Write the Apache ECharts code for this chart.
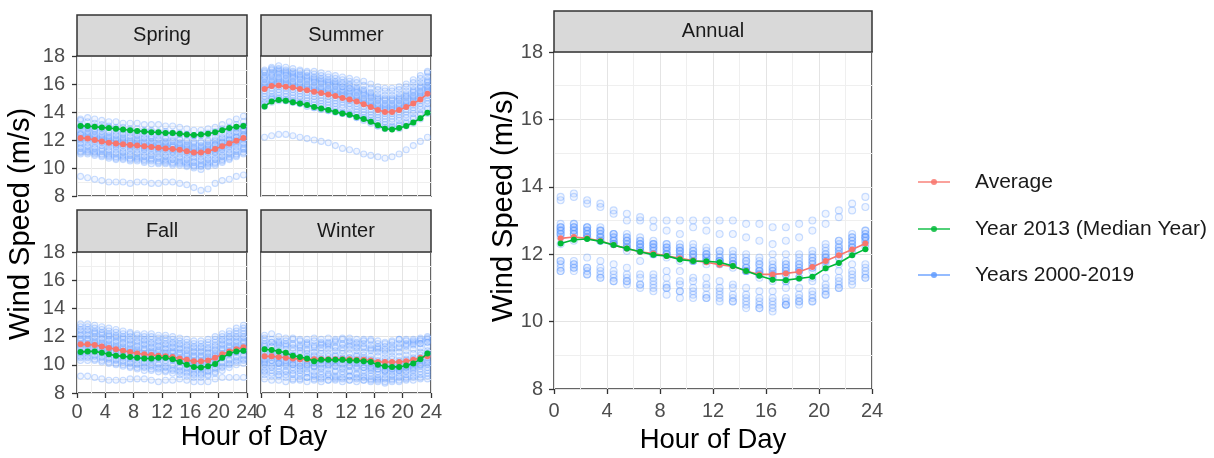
<!DOCTYPE html>
<html>
<head>
<meta charset="utf-8">
<title>Hourly wind speed by season</title>
<script src="https://cdn.jsdelivr.net/npm/echarts@6/dist/echarts.min.js"></script>
<style>
  html, body { margin: 0; padding: 0; background: #ffffff; }
  #chart { width: 1214px; height: 458px; }
</style>
</head>
<body>
<div id="chart"></div>
<script>
// Hour of day (bin centres)
const hours = [0.5,1.5,2.5,3.5,4.5,5.5,6.5,7.5,8.5,9.5,10.5,11.5,12.5,13.5,14.5,15.5,16.5,17.5,18.5,19.5,20.5,21.5,22.5,23.5];
const hourTicks = [0, 4, 8, 12, 16, 20, 24];
const speedTicks = [8, 10, 12, 14, 16, 18];

const seriesNames = ['Average', 'Year 2013 (Median Year)', 'Years 2000-2019'];

// ---- Spring ----
const springAverage = [12.15,12.1,12.0,11.9,11.8,11.75,11.7,11.65,11.6,11.55,11.5,11.45,11.4,11.35,11.3,11.2,11.1,11.1,11.2,11.35,11.55,11.75,11.95,12.15];
const springMedianYear = [13.0,13.0,12.95,12.9,12.85,12.8,12.75,12.7,12.65,12.6,12.55,12.55,12.5,12.5,12.45,12.4,12.35,12.4,12.45,12.55,12.7,12.85,12.95,13.0];
const springYears = [
  [13.5,13.6,13.5,13.4,13.3,13.3,13.2,13.2,13.2,13.1,13.1,13.1,13.0,13.0,12.9,12.8,12.7,12.7,12.8,12.9,13.1,13.3,13.5,13.7],
  [13.4,13.3,13.2,13.1,13.0,12.9,12.9,12.8,12.8,12.7,12.7,12.6,12.6,12.5,12.5,12.4,12.3,12.3,12.4,12.6,12.8,12.9,13.1,13.3],
  [13.0,13.0,13.0,12.9,12.9,12.8,12.7,12.7,12.6,12.6,12.6,12.5,12.5,12.5,12.4,12.4,12.3,12.4,12.5,12.5,12.7,12.8,12.9,13.0],
  [13.0,12.9,12.8,12.8,12.6,12.6,12.5,12.5,12.4,12.4,12.3,12.3,12.2,12.2,12.1,12.0,11.9,11.9,12.0,12.2,12.4,12.6,12.8,13.0],
  [12.9,12.8,12.7,12.6,12.5,12.4,12.4,12.3,12.3,12.2,12.2,12.1,12.1,12.0,12.0,11.9,11.8,11.8,11.9,12.0,12.2,12.4,12.6,12.8],
  [12.7,12.6,12.6,12.4,12.3,12.3,12.2,12.2,12.1,12.1,12.1,12.0,11.9,11.9,11.8,11.7,11.7,11.6,11.7,11.9,12.1,12.3,12.5,12.7],
  [12.5,12.5,12.4,12.3,12.2,12.1,12.1,12.0,12.0,11.9,11.9,11.8,11.8,11.7,11.7,11.6,11.5,11.5,11.6,11.7,11.9,12.1,12.3,12.6],
  [12.4,12.4,12.3,12.2,12.1,12.0,12.0,11.9,11.9,11.8,11.8,11.7,11.7,11.6,11.6,11.5,11.4,11.4,11.5,11.7,11.8,12.0,12.2,12.4],
  [12.4,12.3,12.2,12.1,12.0,11.9,11.9,11.8,11.8,11.7,11.7,11.6,11.6,11.5,11.5,11.4,11.3,11.3,11.4,11.6,11.8,12.0,12.2,12.3],
  [12.2,12.2,12.1,12.0,11.9,11.8,11.8,11.7,11.7,11.6,11.6,11.5,11.5,11.5,11.4,11.3,11.2,11.2,11.3,11.4,11.6,11.8,12.0,12.3],
  [12.1,12.1,12.0,11.9,11.8,11.7,11.7,11.6,11.6,11.5,11.5,11.4,11.4,11.3,11.3,11.2,11.1,11.1,11.2,11.3,11.5,11.7,11.9,12.1],
  [12.0,12.0,11.9,11.8,11.7,11.6,11.6,11.5,11.5,11.4,11.4,11.3,11.3,11.2,11.2,11.1,11.0,11.0,11.1,11.2,11.4,11.6,11.8,12.0],
  [11.8,11.8,11.7,11.6,11.5,11.5,11.4,11.4,11.3,11.3,11.2,11.2,11.1,11.1,11.0,10.9,10.8,10.8,10.9,11.1,11.3,11.5,11.7,11.8],
  [11.7,11.6,11.5,11.4,11.3,11.3,11.2,11.2,11.1,11.1,11.0,11.0,10.9,10.9,10.8,10.7,10.7,10.6,10.7,10.9,11.1,11.3,11.5,11.7],
  [11.5,11.5,11.4,11.3,11.2,11.1,11.1,11.0,11.0,10.9,10.9,10.8,10.8,10.7,10.7,10.6,10.5,10.5,10.6,10.7,10.9,11.1,11.3,11.5],
  [11.4,11.3,11.2,11.2,11.0,11.0,10.9,10.9,10.8,10.8,10.7,10.7,10.6,10.6,10.5,10.4,10.4,10.3,10.4,10.6,10.8,11.0,11.2,11.4],
  [11.2,11.2,11.1,11.0,10.9,10.8,10.8,10.7,10.7,10.6,10.6,10.5,10.5,10.4,10.4,10.3,10.2,10.2,10.3,10.4,10.6,10.8,11.0,11.3],
  [11.1,11.1,11.0,10.9,10.8,10.7,10.7,10.6,10.6,10.5,10.5,10.4,10.4,10.3,10.3,10.2,10.1,10.1,10.2,10.3,10.5,10.7,10.9,11.1],
  [11.0,11.0,10.9,10.8,10.7,10.6,10.6,10.5,10.5,10.4,10.3,10.3,10.3,10.2,10.2,10.1,10.0,9.9,10.1,10.2,10.4,10.6,10.8,11.0],
  [9.4,9.3,9.2,9.1,9.0,9.0,9.0,8.9,9.0,9.0,8.9,8.9,9.0,9.0,8.9,8.8,8.6,8.4,8.5,8.9,9.1,9.2,9.4,9.5]
];

// ---- Summer ----
const summerAverage = [15.65,15.85,15.9,15.8,15.75,15.65,15.55,15.45,15.35,15.25,15.15,15.0,14.9,14.75,14.55,14.35,14.15,14.0,14.0,14.15,14.35,14.6,14.9,15.3];
const summerMedianYear = [14.4,14.75,14.85,14.8,14.7,14.6,14.5,14.35,14.25,14.15,14.0,13.9,13.8,13.65,13.5,13.3,13.05,12.8,12.75,12.85,13.0,13.25,13.55,13.95];
const summerYears = [
  [17.0,17.2,17.3,17.2,17.1,17.0,16.9,16.9,16.8,16.7,16.6,16.5,16.4,16.3,16.2,16.0,15.8,15.7,15.7,15.8,16.0,16.3,16.6,16.9],
  [16.9,17.1,17.1,17.0,16.9,16.9,16.8,16.7,16.6,16.5,16.4,16.3,16.2,16.1,15.9,15.7,15.6,15.5,15.5,15.6,15.8,16.1,16.4,16.8],
  [16.8,17.0,17.0,16.9,16.8,16.7,16.6,16.5,16.4,16.3,16.2,16.1,16.0,15.8,15.6,15.4,15.3,15.2,15.2,15.3,15.5,15.8,16.1,16.5],
  [16.6,16.8,16.9,16.8,16.7,16.6,16.5,16.4,16.3,16.2,16.1,16.0,15.9,15.7,15.5,15.3,15.1,15.0,15.0,15.1,15.3,15.6,15.9,16.3],
  [16.5,16.7,16.8,16.7,16.6,16.5,16.4,16.3,16.2,16.1,16.0,15.8,15.7,15.6,15.4,15.2,15.0,14.9,14.9,15.0,15.2,15.5,15.8,16.2],
  [16.4,16.6,16.7,16.6,16.5,16.4,16.3,16.2,16.1,16.0,15.9,15.8,15.7,15.5,15.3,15.1,14.9,14.8,14.8,14.9,15.1,15.4,15.7,16.1],
  [16.3,16.5,16.5,16.4,16.4,16.3,16.2,16.1,16.0,15.9,15.8,15.6,15.5,15.4,15.2,15.0,14.8,14.6,14.6,14.8,15.0,15.2,15.5,15.9],
  [16.1,16.3,16.4,16.3,16.2,16.1,16.0,15.9,15.8,15.7,15.6,15.5,15.4,15.2,15.0,14.8,14.6,14.5,14.5,14.6,14.8,15.1,15.4,15.8],
  [16.0,16.2,16.3,16.2,16.1,16.0,15.9,15.8,15.7,15.6,15.5,15.4,15.3,15.1,14.9,14.7,14.5,14.4,14.4,14.5,14.7,15.0,15.3,15.7],
  [15.9,16.1,16.2,16.1,16.0,15.9,15.8,15.7,15.6,15.5,15.4,15.3,15.2,15.0,14.8,14.6,14.4,14.3,14.3,14.4,14.6,14.9,15.2,15.6],
  [15.8,16.0,16.1,16.0,15.9,15.8,15.7,15.6,15.5,15.4,15.3,15.2,15.1,14.9,14.7,14.5,14.3,14.2,14.2,14.3,14.5,14.8,15.1,15.5],
  [15.7,15.9,16.0,15.9,15.8,15.7,15.6,15.5,15.4,15.3,15.2,15.1,14.9,14.8,14.6,14.4,14.2,14.1,14.1,14.2,14.4,14.7,15.0,15.4],
  [15.5,15.7,15.8,15.7,15.6,15.5,15.4,15.3,15.2,15.1,15.0,14.9,14.8,14.6,14.4,14.2,14.0,13.9,13.9,14.0,14.2,14.5,14.8,15.2],
  [15.3,15.5,15.6,15.5,15.4,15.3,15.2,15.1,15.0,14.9,14.8,14.7,14.6,14.4,14.2,14.0,13.8,13.7,13.7,13.8,14.0,14.3,14.6,15.0],
  [15.1,15.3,15.4,15.3,15.2,15.1,15.0,14.9,14.8,14.7,14.6,14.5,14.4,14.2,14.0,13.8,13.6,13.5,13.5,13.6,13.8,14.1,14.4,14.8],
  [14.9,15.1,15.2,15.1,15.0,14.9,14.8,14.7,14.6,14.5,14.4,14.3,14.2,14.0,13.8,13.6,13.4,13.3,13.3,13.4,13.6,13.9,14.2,14.6],
  [14.7,15.0,15.0,14.9,14.8,14.7,14.6,14.5,14.4,14.3,14.2,14.0,13.9,13.8,13.6,13.4,13.2,13.1,13.0,13.1,13.3,13.6,13.9,14.3],
  [14.4,14.7,14.8,14.8,14.7,14.6,14.5,14.3,14.2,14.1,14.0,13.9,13.8,13.6,13.5,13.3,13.0,12.8,12.8,12.8,13.0,13.2,13.5,13.9],
  [14.6,14.9,14.9,14.8,14.7,14.6,14.4,14.3,14.2,14.1,14.0,13.9,13.8,13.6,13.4,13.2,13.0,12.9,12.9,13.0,13.2,13.5,13.8,14.2],
  [12.2,12.3,12.4,12.4,12.3,12.2,12.1,12.0,11.9,11.8,11.6,11.4,11.3,11.2,11.0,10.9,10.8,10.7,10.8,11.0,11.3,11.6,11.9,12.2]
];

// ---- Fall ----
const fallAverage = [11.45,11.45,11.4,11.3,11.2,11.1,11.0,10.9,10.8,10.75,10.7,10.65,10.6,10.55,10.45,10.35,10.25,10.25,10.3,10.5,10.75,10.95,11.1,11.25];
const fallMedianYear = [10.9,10.95,10.95,10.85,10.75,10.65,10.6,10.55,10.5,10.45,10.45,10.5,10.5,10.4,10.2,10.0,9.85,9.8,9.9,10.05,10.5,10.8,10.95,11.0];
const fallYears = [
  [12.9,12.9,12.8,12.7,12.6,12.5,12.4,12.3,12.2,12.2,12.2,12.1,12.1,12.0,11.9,11.8,11.7,11.7,11.8,12.0,12.2,12.4,12.6,12.8],
  [12.7,12.7,12.6,12.5,12.4,12.3,12.2,12.2,12.1,12.0,12.0,11.9,11.9,11.8,11.7,11.6,11.5,11.5,11.6,11.8,12.0,12.2,12.4,12.6],
  [12.5,12.5,12.4,12.3,12.2,12.1,12.0,12.0,11.9,11.8,11.8,11.7,11.7,11.6,11.5,11.4,11.3,11.3,11.4,11.6,11.8,12.0,12.2,12.4],
  [12.4,12.4,12.3,12.2,12.1,12.0,11.9,11.8,11.7,11.7,11.6,11.6,11.5,11.5,11.4,11.3,11.2,11.2,11.2,11.4,11.7,11.9,12.0,12.2],
  [12.2,12.2,12.2,12.1,12.0,11.9,11.8,11.7,11.6,11.5,11.5,11.4,11.4,11.3,11.2,11.1,11.0,11.0,11.1,11.3,11.5,11.7,11.9,12.0],
  [12.1,12.1,12.0,11.9,11.8,11.7,11.6,11.5,11.4,11.4,11.3,11.3,11.2,11.2,11.1,11.0,10.9,10.9,10.9,11.1,11.4,11.6,11.7,11.9],
  [11.9,11.9,11.9,11.8,11.7,11.6,11.5,11.4,11.3,11.2,11.2,11.1,11.1,11.0,10.9,10.8,10.7,10.7,10.8,11.0,11.2,11.4,11.6,11.7],
  [11.8,11.8,11.7,11.6,11.5,11.4,11.3,11.2,11.1,11.1,11.0,11.0,10.9,10.9,10.8,10.7,10.6,10.6,10.6,10.8,11.1,11.3,11.4,11.6],
  [11.7,11.7,11.6,11.5,11.4,11.3,11.2,11.1,11.0,11.0,10.9,10.9,10.8,10.8,10.7,10.6,10.5,10.5,10.5,10.7,11.0,11.2,11.3,11.5],
  [11.5,11.5,11.5,11.4,11.3,11.2,11.1,11.0,10.9,10.8,10.8,10.7,10.7,10.6,10.5,10.4,10.3,10.3,10.4,10.6,10.8,11.0,11.2,11.3],
  [11.4,11.4,11.4,11.3,11.2,11.1,11.0,10.9,10.8,10.7,10.7,10.6,10.6,10.5,10.4,10.3,10.2,10.2,10.3,10.5,10.7,10.9,11.1,11.2],
  [11.3,11.3,11.3,11.2,11.1,11.0,10.9,10.8,10.7,10.6,10.6,10.5,10.5,10.4,10.3,10.2,10.1,10.1,10.2,10.4,10.6,10.8,11.0,11.1],
  [11.2,11.2,11.1,11.0,10.9,10.8,10.7,10.6,10.5,10.5,10.4,10.4,10.3,10.3,10.2,10.1,10.0,10.0,10.0,10.2,10.5,10.7,10.9,11.0],
  [10.9,11.0,11.0,10.9,10.8,10.7,10.6,10.5,10.5,10.4,10.4,10.5,10.5,10.4,10.2,10.0,9.9,9.8,9.9,10.1,10.5,10.8,10.9,11.0],
  [10.9,10.9,10.9,10.8,10.7,10.6,10.5,10.4,10.3,10.2,10.2,10.1,10.1,10.0,9.9,9.8,9.7,9.7,9.8,10.0,10.2,10.4,10.6,10.7],
  [10.8,10.8,10.7,10.6,10.5,10.4,10.3,10.2,10.1,10.1,10.0,10.0,9.9,9.9,9.8,9.7,9.6,9.6,9.6,9.8,10.1,10.3,10.5,10.6],
  [10.6,10.6,10.6,10.5,10.4,10.3,10.2,10.1,10.0,9.9,9.9,9.8,9.8,9.7,9.6,9.5,9.4,9.4,9.5,9.7,9.9,10.1,10.3,10.4],
  [10.5,10.5,10.4,10.3,10.2,10.1,10.0,9.9,9.8,9.8,9.7,9.7,9.6,9.6,9.5,9.4,9.3,9.3,9.3,9.5,9.8,10.0,10.2,10.3],
  [10.3,10.3,10.3,10.2,10.1,10.0,9.9,9.8,9.7,9.6,9.6,9.5,9.5,9.4,9.3,9.2,9.1,9.1,9.2,9.4,9.6,9.8,10.0,10.1],
  [9.2,9.2,9.1,9.0,8.9,8.9,8.9,9.0,9.0,9.0,8.9,8.8,8.9,8.9,9.0,8.9,8.8,8.8,8.8,9.0,9.1,9.1,9.1,9.1]
];

// ---- Winter ----
const winterAverage = [10.6,10.6,10.55,10.5,10.45,10.4,10.4,10.4,10.4,10.4,10.4,10.4,10.4,10.35,10.35,10.3,10.2,10.2,10.2,10.2,10.25,10.35,10.5,10.6];
const winterMedianYear = [11.1,11.05,10.95,10.85,10.65,10.55,10.45,10.25,10.35,10.35,10.35,10.35,10.3,10.3,10.25,10.2,10.0,9.9,9.85,9.85,9.95,10.1,10.4,10.8];
const winterYears = [
  [12.1,12.2,12.0,11.9,11.8,11.7,11.8,11.9,11.8,11.9,11.8,11.9,11.9,11.8,11.7,11.8,11.7,11.6,11.7,11.8,11.7,11.8,11.9,12.0],
  [11.9,11.8,11.7,11.7,11.9,11.8,11.6,11.7,11.6,11.6,11.7,11.8,11.7,11.6,11.8,11.7,11.5,11.5,11.6,11.8,11.8,11.7,11.8,11.9],
  [11.5,11.6,11.5,11.4,11.5,11.4,11.5,11.4,11.5,11.5,11.6,11.5,11.6,11.5,11.5,11.4,11.3,11.3,11.4,11.5,11.5,11.6,11.7,11.8],
  [11.3,11.3,11.4,11.3,11.2,11.2,11.1,11.2,11.2,11.3,11.2,11.2,11.3,11.2,11.2,11.1,11.1,11.0,11.1,11.2,11.3,11.4,11.5,11.6],
  [11.4,11.3,11.2,11.1,11.0,11.0,11.0,10.9,11.0,11.1,11.0,11.0,11.1,11.0,10.9,11.0,10.9,10.8,10.9,10.9,11.0,11.1,11.2,11.3],
  [11.1,11.0,11.0,10.8,10.7,10.5,10.5,10.3,10.3,10.4,10.3,10.4,10.3,10.3,10.2,10.2,10.0,9.9,9.9,9.8,9.9,10.1,10.4,10.8],
  [10.9,10.9,10.8,10.8,10.7,10.8,10.8,10.7,10.8,10.8,10.7,10.8,10.8,10.7,10.7,10.6,10.6,10.5,10.6,10.6,10.7,10.8,10.9,11.0],
  [10.8,10.7,10.7,10.6,10.5,10.5,10.6,10.6,10.5,10.6,10.6,10.5,10.5,10.6,10.5,10.4,10.3,10.3,10.4,10.3,10.4,10.5,10.7,10.8],
  [10.6,10.6,10.5,10.5,10.4,10.4,10.3,10.4,10.4,10.3,10.4,10.4,10.5,10.4,10.4,10.3,10.2,10.2,10.1,10.2,10.3,10.4,10.5,10.7],
  [10.4,10.5,10.4,10.3,10.3,10.2,10.2,10.2,10.3,10.2,10.2,10.3,10.2,10.2,10.3,10.1,10.0,10.0,10.0,10.1,10.1,10.2,10.3,10.5],
  [10.3,10.3,10.2,10.2,10.1,10.1,10.0,10.1,10.1,10.0,10.1,10.1,10.0,10.1,10.0,9.9,9.9,9.8,9.8,9.9,10.0,10.0,10.2,10.3],
  [10.1,10.1,10.1,10.0,10.0,9.9,9.9,9.9,9.8,9.9,9.9,9.8,9.9,9.8,9.8,9.8,9.7,9.6,9.7,9.7,9.8,9.9,10.0,10.2],
  [10.0,9.9,9.9,9.9,9.8,9.7,9.7,9.8,9.7,9.7,9.6,9.7,9.6,9.7,9.6,9.6,9.5,9.5,9.5,9.6,9.6,9.7,9.9,10.0],
  [9.8,9.8,9.7,9.6,9.6,9.6,9.5,9.5,9.5,9.4,9.5,9.5,9.5,9.4,9.4,9.4,9.3,9.3,9.3,9.4,9.5,9.6,9.7,9.8],
  [9.6,9.6,9.5,9.5,9.4,9.4,9.4,9.3,9.3,9.3,9.2,9.3,9.2,9.3,9.2,9.2,9.1,9.1,9.2,9.2,9.3,9.4,9.5,9.6],
  [9.5,9.4,9.3,9.3,9.3,9.2,9.1,9.2,9.1,9.2,9.1,9.1,9.2,9.1,9.1,9.0,9.0,9.0,9.0,9.1,9.1,9.2,9.3,9.4],
  [9.3,9.2,9.2,9.1,9.0,9.0,9.1,9.0,9.0,8.9,9.0,9.0,8.9,9.0,8.9,8.9,8.9,8.8,8.9,8.9,9.0,9.1,9.1,9.2],
  [9.0,8.9,8.9,8.8,8.9,8.9,8.8,8.9,8.8,8.9,8.9,8.8,8.9,8.8,8.9,8.8,8.8,8.7,8.8,8.8,8.9,8.9,9.0,9.0],
  [11.7,11.6,11.6,11.5,11.4,11.3,11.4,11.3,11.4,11.4,11.3,11.4,11.4,11.3,11.3,11.2,11.2,11.1,11.2,11.3,11.4,11.5,11.5,11.6],
  [10.2,10.3,10.1,10.1,10.0,9.9,10.0,9.9,10.0,10.0,9.9,10.0,9.9,9.9,9.8,9.7,9.7,9.6,9.7,9.6,9.8,9.8,10.0,10.1]
];

// ---- Annual ----
const annualAverage = [12.47,12.51,12.47,12.39,12.27,12.17,12.07,12.02,11.95,11.88,11.81,11.76,11.69,11.64,11.5,11.4,11.4,11.43,11.48,11.62,11.8,11.97,12.14,12.32];
const annualMedianYear = [12.32,12.43,12.45,12.38,12.27,12.17,12.07,11.98,11.95,11.84,11.8,11.79,11.76,11.65,11.5,11.36,11.24,11.23,11.28,11.33,11.58,11.74,11.97,12.15];
const annualYears = [
  [13.7,13.8,13.6,13.5,13.3,13.2,13.1,13.0,13.0,13.0,13.0,13.0,13.0,13.0,12.9,12.9,12.8,12.8,12.9,13.0,13.2,13.3,13.5,13.7],
  [13.6,13.7,13.5,13.4,13.2,13.0,13.0,12.8,12.7,12.6,12.8,12.7,12.6,12.6,12.5,12.4,12.3,12.4,12.5,12.7,12.9,13.1,13.3,13.4],
  [12.9,12.9,12.8,12.8,12.6,12.6,12.5,12.3,12.3,12.3,12.3,12.2,12.1,12.1,12.0,11.9,12.0,12.0,12.0,12.1,12.3,12.4,12.5,12.7],
  [12.8,12.9,12.8,12.7,12.6,12.5,12.4,12.4,12.3,12.2,12.2,12.1,12.1,12.0,11.9,11.8,11.8,11.8,11.9,12.0,12.2,12.4,12.6,12.7],
  [12.8,12.8,12.7,12.7,12.5,12.4,12.4,12.3,12.2,12.2,12.1,12.0,12.0,11.9,11.8,11.7,11.7,11.7,11.8,11.9,12.1,12.3,12.5,12.6],
  [12.7,12.8,12.7,12.6,12.5,12.4,12.3,12.3,12.2,12.1,12.1,12.0,11.9,11.9,11.8,11.7,11.6,11.7,11.7,11.9,12.0,12.2,12.4,12.6],
  [12.7,12.7,12.7,12.6,12.4,12.4,12.3,12.2,12.1,12.1,12.0,12.0,11.9,11.8,11.7,11.6,11.6,11.6,11.7,11.8,12.0,12.2,12.4,12.5],
  [12.6,12.7,12.6,12.5,12.4,12.3,12.2,12.2,12.1,12.0,12.0,11.9,11.8,11.8,11.6,11.5,11.5,11.6,11.6,11.8,11.9,12.1,12.3,12.5],
  [12.6,12.6,12.6,12.5,12.4,12.3,12.2,12.1,12.0,12.0,11.9,11.9,11.8,11.7,11.6,11.5,11.5,11.5,11.6,11.7,11.9,12.1,12.2,12.4],
  [12.6,12.6,12.5,12.4,12.3,12.2,12.1,12.1,12.0,11.9,11.9,11.8,11.7,11.7,11.5,11.4,11.4,11.5,11.5,11.7,11.9,12.0,12.2,12.4],
  [12.8,12.7,12.6,12.5,12.3,12.2,12.2,12.0,12.0,11.9,11.8,11.8,11.8,11.7,11.6,11.5,11.4,11.4,11.5,11.6,11.8,12.0,12.3,12.5],
  [12.5,12.6,12.5,12.4,12.3,12.1,12.1,12.0,11.9,11.9,11.8,11.7,11.7,11.6,11.5,11.4,11.3,11.4,11.5,11.6,11.8,11.9,12.1,12.3],
  [12.7,12.8,12.8,12.7,12.6,12.5,12.3,12.2,12.2,12.1,12.0,11.9,11.8,11.7,11.5,11.3,11.3,11.2,11.3,11.5,11.7,11.9,12.2,12.5],
  [12.3,12.4,12.5,12.4,12.3,12.2,12.1,12.0,12.0,11.8,11.8,11.8,11.8,11.7,11.5,11.4,11.2,11.2,11.3,11.3,11.6,11.7,12.0,12.2],
  [11.8,11.8,11.9,11.8,11.7,11.6,11.8,11.4,11.5,11.5,11.3,11.3,11.2,11.1,11.0,10.9,10.9,11.0,11.0,11.2,11.3,11.5,11.7,11.7],
  [11.7,11.7,11.6,11.6,11.5,11.4,11.4,11.3,11.3,11.2,11.2,11.1,11.0,11.0,10.8,10.7,10.7,10.7,10.8,10.9,11.1,11.3,11.5,11.6],
  [11.6,11.6,11.6,11.5,11.4,11.3,11.3,11.2,11.1,11.1,11.0,11.0,10.9,10.8,10.7,10.6,10.6,10.6,10.7,10.8,11.0,11.2,11.4,11.5],
  [11.5,11.6,11.4,11.4,11.3,11.2,11.1,11.1,11.0,10.9,10.9,10.8,10.8,10.7,10.6,10.5,10.4,10.5,10.6,10.7,10.9,11.1,11.3,11.4],
  [11.8,11.7,11.5,11.3,11.2,11.2,11.0,10.9,10.8,10.7,10.7,10.7,10.6,10.6,10.4,10.4,10.3,10.5,10.5,10.6,10.8,11.0,11.2,11.3],
  [11.5,11.5,11.4,11.3,11.2,11.1,11.1,11.0,11.0,10.9,10.8,10.7,10.7,10.6,10.5,10.4,10.5,10.5,10.6,10.6,10.8,11.0,11.1,11.3]
];

// ---- look & layout ----
const FONT = '"Liberation Sans", Arial, Helvetica, sans-serif';
const RED = '#F8766D', GREEN = '#00BA38', BLUE = '#619CFF';

const panels = [
  { title: 'Spring', avg: springAverage, med: springMedianYear, years: springYears,
    box: { left: 77, top: 56, width: 170, height: 140 }, strip: 41, xLabels: false, yLabels: true },
  { title: 'Summer', avg: summerAverage, med: summerMedianYear, years: summerYears,
    box: { left: 261, top: 56, width: 170, height: 140 }, strip: 41, xLabels: false, yLabels: false },
  { title: 'Fall', avg: fallAverage, med: fallMedianYear, years: fallYears,
    box: { left: 77, top: 252, width: 170, height: 141 }, strip: 42, xLabels: true, yLabels: true },
  { title: 'Winter', avg: winterAverage, med: winterMedianYear, years: winterYears,
    box: { left: 261, top: 252, width: 170, height: 141 }, strip: 42, xLabels: true, yLabels: false },
  { title: 'Annual', avg: annualAverage, med: annualMedianYear, years: annualYears,
    box: { left: 554, top: 52, width: 318, height: 337 }, strip: 41, xLabels: true, yLabels: true, big: true }
];

const grids = [], xAxes = [], yAxes = [], series = [], graphics = [];

panels.forEach((p, i) => {
  grids.push(Object.assign({ show: true, backgroundColor: '#ffffff', borderColor: '#333333', borderWidth: 1.5, containLabel: false }, p.box));

  const gridLine = { show: true, lineStyle: { color: '#e4e4e4', width: 1 } };
  const minorLine = { show: true, lineStyle: { color: '#efefef', width: 1 } };

  xAxes.push({
    type: 'value', gridIndex: i, min: hourTicks[0], max: hourTicks[hourTicks.length - 1], interval: 4,
    axisLine: { show: false },
    axisTick: { show: p.xLabels, length: 5, lineStyle: { color: '#333333', width: 1.3 } },
    axisLabel: { show: p.xLabels, fontSize: 20, color: '#4d4d4d', fontFamily: FONT, margin: p.big ? 12 : 9,
                 showMinLabel: true, showMaxLabel: true },
    splitLine: gridLine,
    minorTick: { show: false, splitNumber: 2 },
    minorSplitLine: minorLine
  });
  yAxes.push({
    type: 'value', gridIndex: i, min: speedTicks[0], max: speedTicks[speedTicks.length - 1], interval: 2,
    axisLine: { show: false },
    axisTick: { show: p.yLabels, length: 5, lineStyle: { color: '#333333', width: 1.3 } },
    axisLabel: { show: p.yLabels, fontSize: 20, color: '#4d4d4d', fontFamily: FONT, margin: p.big ? 11 : 12,
                 showMinLabel: true, showMaxLabel: true },
    splitLine: gridLine,
    minorTick: { show: false, splitNumber: 2 },
    minorSplitLine: minorLine
  });

  // every year as translucent open circles
  const cloud = [];
  p.years.forEach(row => row.forEach((v, k) => cloud.push([hours[k], v])));
  series.push({
    name: seriesNames[2], type: 'scatter', xAxisIndex: i, yAxisIndex: i, data: cloud,
    symbol: 'circle', symbolSize: p.big ? 7 : 6, z: 2,
    itemStyle: { color: 'rgba(97,156,255,0.12)', borderColor: 'rgba(97,156,255,0.42)', borderWidth: 1.1 },
    emphasis: { disabled: true }
  });
  series.push({
    name: seriesNames[0], type: 'line', xAxisIndex: i, yAxisIndex: i,
    data: hours.map((h, k) => [h, p.avg[k]]),
    symbol: 'circle', symbolSize: 6, showSymbol: true, z: 3,
    lineStyle: { color: RED, width: 1.6 }, itemStyle: { color: RED, borderWidth: 0 },
    emphasis: { disabled: true }
  });
  series.push({
    name: seriesNames[1], type: 'line', xAxisIndex: i, yAxisIndex: i,
    data: hours.map((h, k) => [h, p.med[k]]),
    symbol: 'circle', symbolSize: 6, showSymbol: true, z: 4,
    lineStyle: { color: GREEN, width: 1.6 }, itemStyle: { color: GREEN, borderWidth: 0 },
    emphasis: { disabled: true }
  });

  // facet strip above the panel
  graphics.push({
    type: 'rect', z: 10,
    shape: { x: p.box.left, y: p.box.top - p.strip, width: p.box.width, height: p.strip },
    style: { fill: '#d9d9d9', stroke: '#333333', lineWidth: 1.5 }
  });
  graphics.push({
    type: 'text', z: 11,
    x: p.box.left + p.box.width / 2, y: p.box.top - p.strip / 2,
    style: { text: p.title, fontSize: 20, fill: '#1a1a1a', fontFamily: FONT, align: 'center', verticalAlign: 'middle' }
  });
});

// axis titles
const xTitleStyle = { fontSize: 27.5, fill: '#000000', fontFamily: FONT, align: 'center', verticalAlign: 'middle' };
const yTitleStyle = { fontSize: 29, fill: '#000000', fontFamily: FONT, align: 'center', verticalAlign: 'middle' };
graphics.push({ type: 'text', x: 254, y: 437, style: Object.assign({ text: 'Hour of Day' }, xTitleStyle) });
graphics.push({ type: 'text', x: 713, y: 440, style: Object.assign({ text: 'Hour of Day' }, xTitleStyle) });
graphics.push({ type: 'text', x: 21, y: 224, rotation: Math.PI / 2, style: Object.assign({ text: 'Wind Speed (m/s)' }, yTitleStyle) });
graphics.push({ type: 'text', x: 504, y: 206, rotation: Math.PI / 2, style: Object.assign({ text: 'Wind Speed (m/s)' }, yTitleStyle) });

// legend keys
const legendColors = [RED, GREEN, BLUE];
const legendRows = [182, 229, 275];
seriesNames.forEach((name, i) => {
  const y = legendRows[i];
  graphics.push({ type: 'line', shape: { x1: 918, y1: y, x2: 950, y2: y }, style: { stroke: legendColors[i], lineWidth: 1.6, opacity: 0.85 } });
  graphics.push({ type: 'circle', shape: { cx: 934, cy: y, r: 3 }, style: { fill: legendColors[i], opacity: 0.85 } });
  graphics.push({ type: 'text', x: 975, y: y, style: { text: name, fontSize: 21, fill: '#1a1a1a', fontFamily: FONT, align: 'left', verticalAlign: 'middle' } });
});

const chart = echarts.init(document.getElementById('chart'), null, { renderer: 'canvas' });
chart.setOption({
  backgroundColor: '#ffffff',
  animation: false,
  textStyle: { fontFamily: FONT },
  grid: grids,
  xAxis: xAxes,
  yAxis: yAxes,
  series: series,
  graphic: { elements: graphics }
});
</script>
</body>
</html>
